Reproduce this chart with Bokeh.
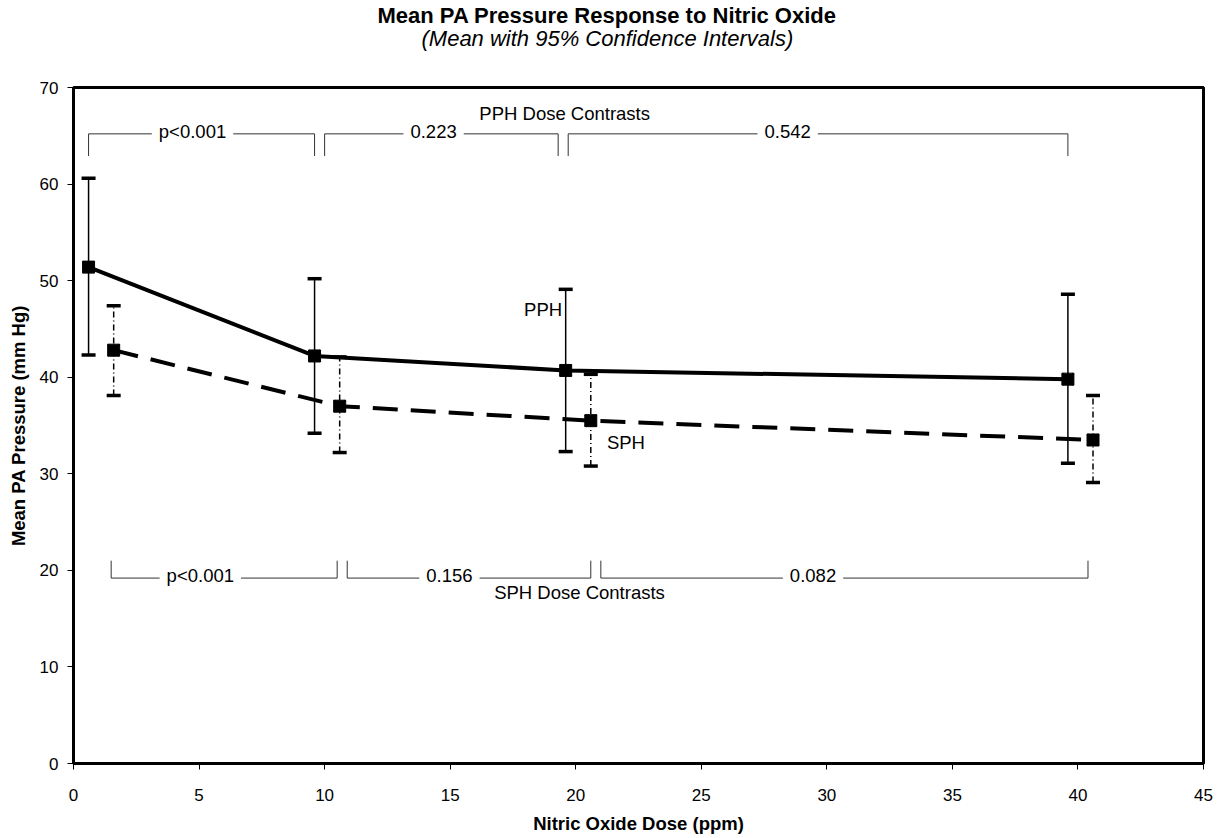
from bokeh.plotting import figure
from bokeh.models import Range1d, FixedTicker, Label, Title
from bokeh.embed import file_html
from bokeh.resources import INLINE

FONT = "Liberation Sans"

# ---- data ----
x_ticks = [0, 5, 10, 15, 20, 25, 30, 35, 40, 45]
y_ticks = [0, 10, 20, 30, 40, 50, 60, 70]

dose_pph = [0.6, 9.6, 19.6, 39.6]
mean_pph = [51.4, 42.2, 40.7, 39.8]
lo_pph = [42.3, 34.2, 32.3, 31.1]
hi_pph = [60.6, 50.2, 49.1, 48.6]

dose_sph = [1.6, 10.6, 20.6, 40.6]
mean_sph = [42.8, 37.0, 35.5, 33.5]
lo_sph = [38.1, 32.2, 30.8, 29.1]
hi_sph = [47.4, 42.1, 40.3, 38.1]

pph_contrast_from = [0.6, 10.0, 19.7]
pph_contrast_to = [9.6, 19.3, 39.6]
pph_contrast_p = ["p<0.001", "0.223", "0.542"]
pph_contrast_label_x = [4.74, 14.34, 28.44]

sph_contrast_from = [1.5, 10.9, 21.0]
sph_contrast_to = [10.5, 20.6, 40.4]
sph_contrast_p = ["p<0.001", "0.156", "0.082"]
sph_contrast_label_x = [5.05, 14.97, 29.45]

TITLE = "Mean PA Pressure Response to Nitric Oxide"
SUBTITLE = "(Mean with 95% Confidence Intervals)"

# ---- figure ----
p = figure(width=1222, height=836, title=None,
           x_range=Range1d(0, 45), y_range=Range1d(0, 70),
           output_backend="svg", toolbar_location=None,
           min_border_left=73, min_border_right=19,
           min_border_top=87, min_border_bottom=71,
           background_fill_color="white", border_fill_color="white")

# titles: spacer (nearest frame), subtitle, main title (outermost)
p.add_layout(Title(text=" ", text_font_size="1px", standoff=38), "above")
p.add_layout(Title(text=SUBTITLE, align="left", offset=348,
                   text_font=FONT, text_font_size="22px",
                   text_font_style="italic", text_color="black",
                   standoff=-8), "above")
p.add_layout(Title(text=TITLE, align="left", offset=304,
                   text_font=FONT, text_font_size="22px",
                   text_font_style="bold", text_color="black",
                   standoff=0), "above")

p.xgrid.visible = False
p.ygrid.visible = False
p.outline_line_color = "black"
p.outline_line_width = 3
p.outline_line_alpha = 1

p.xaxis.ticker = FixedTicker(ticks=x_ticks)
p.yaxis.ticker = FixedTicker(ticks=y_ticks)
for ax in (p.xaxis[0], p.yaxis[0]):
    ax.axis_line_width = 3
    ax.axis_line_color = "black"
    ax.major_tick_out = 6
    ax.major_tick_in = 0
    ax.minor_tick_out = 0
    ax.minor_tick_in = 0
    ax.major_tick_line_width = 1
    ax.major_tick_line_color = "black"
    ax.major_label_text_font = FONT
    ax.major_label_text_font_size = "17px"
    ax.major_label_text_color = "black"
    ax.axis_label_text_font = FONT
    ax.axis_label_text_font_size = "18.5px"
    ax.axis_label_text_font_style = "bold"
    ax.axis_label_text_color = "black"

p.xaxis.axis_label = "Nitric Oxide Dose (ppm)"
p.yaxis.axis_label = "Mean PA Pressure (mm Hg)"
p.xaxis.major_label_standoff = 19
p.xaxis.axis_label_standoff = 9
p.yaxis.major_label_standoff = 9
p.yaxis.axis_label_standoff = 8

# ---- contrast brackets ----
PPH_LEVEL, PPH_TICK = 65.2, 62.9
SPH_LEVEL, SPH_TICK = 19.2, 21.0

bx, by = [], []
for a, b in zip(pph_contrast_from, pph_contrast_to):
    bx.append([a, a, b, b]); by.append([PPH_TICK, PPH_LEVEL, PPH_LEVEL, PPH_TICK])
for a, b in zip(sph_contrast_from, sph_contrast_to):
    bx.append([a, a, b, b]); by.append([SPH_TICK, SPH_LEVEL, SPH_LEVEL, SPH_TICK])
p.multi_line(xs=bx, ys=by, line_color="#333333", line_width=1)

def add_label(x, y, text, size="18.5px", align="center", bg=None, pad=0):
    kw = dict(x=x, y=y, text=text, text_font=FONT, text_font_size=size,
              text_align=align, text_baseline="middle", text_color="black")
    if bg:
        kw.update(background_fill_color=bg, padding=pad)
    p.add_layout(Label(**kw))

for lx, t in zip(pph_contrast_label_x, pph_contrast_p):
    add_label(lx, PPH_LEVEL + 0.2, t, bg="white", pad=7)
for lx, t in zip(sph_contrast_label_x, sph_contrast_p):
    add_label(lx, SPH_LEVEL + 0.3, t, bg="white", pad=7)

add_label(19.56, 67.3, "PPH Dose Contrasts")
add_label(20.15, 17.7, "SPH Dose Contrasts")
add_label(18.7, 47.0, "PPH")
add_label(22.0, 33.2, "SPH")

# ---- error bars ----
p.segment(x0=dose_pph, y0=lo_pph, x1=dose_pph, y1=hi_pph,
          line_color="black", line_width=1.5)
p.segment(x0=dose_sph, y0=lo_sph, x1=dose_sph, y1=hi_sph,
          line_color="black", line_width=1.5, line_dash="6 3 1 3")
for xs, ys in ((dose_pph, lo_pph), (dose_pph, hi_pph),
               (dose_sph, lo_sph), (dose_sph, hi_sph)):
    p.scatter(x=xs, y=ys, marker="dash", size=14, line_width=3.5,
              line_color="black")

# ---- mean lines ----
p.line(dose_pph, mean_pph, line_color="black", line_width=4)
p.line(dose_sph, mean_sph, line_color="black", line_width=4, line_dash="25 13")

for xs, ys in ((dose_pph, mean_pph), (dose_sph, mean_sph)):
    p.scatter(x=xs, y=ys, marker="square", size=12, fill_color="black",
              line_color="black")
    p.scatter(x=xs, y=ys, marker="x", size=16, line_color="black", line_width=2)

open("out.html", "w").write(file_html(p, INLINE))
